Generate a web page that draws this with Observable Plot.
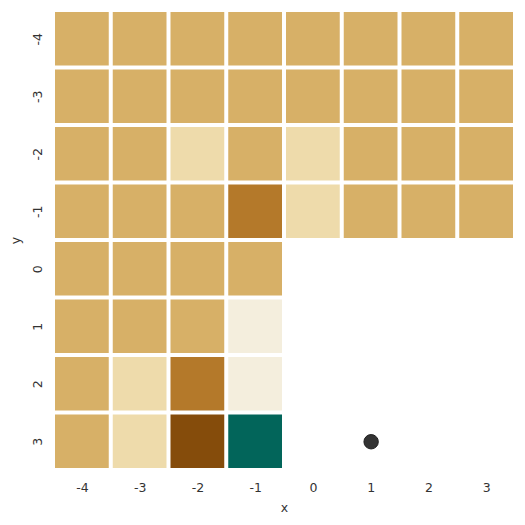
<!DOCTYPE html>
<html>
<head>
<meta charset="utf-8">
<script src="https://cdn.jsdelivr.net/npm/d3@7"></script>
<script src="https://cdn.jsdelivr.net/npm/@observablehq/plot@0.6"></script>
<style>
  body { margin: 0; background: #fff; }
  #chart { width: 525px; height: 525px; }
</style>
</head>
<body>
<div id="chart"></div>
<script>
const xs = [-4, -3, -2, -1, 0, 1, 2, 3];
const ys = [-4, -3, -2, -1, 0, 1, 2, 3];
// category codes per row (y = -4 .. 3), per column (x = -4 .. 3); null = empty
const grid = [
  ["B","B","B","B","B","B","B","B"],
  ["B","B","B","B","B","B","B","B"],
  ["B","B","C","B","C","B","B","B"],
  ["B","B","B","A","C","B","B","B"],
  ["B","B","B","B",null,null,null,null],
  ["B","B","B","D",null,null,null,null],
  ["B","C","A","D",null,null,null,null],
  ["B","C","Z","T",null,null,null,null]
];
const categories = ["Z","A","B","C","D","T"];
const colors = ["#854c0b","#b4792a","#d7b067","#eedbab","#f4eedd","#02655a"];
const points = [{x: 1, y: 3}];

const cells = [];
ys.forEach((y, i) => xs.forEach((x, j) => {
  if (grid[i][j] !== null) cells.push({x, y, v: grid[i][j]});
}));

const chart = Plot.plot({
  width: 525,
  height: 525,
  marginLeft: 53,
  marginRight: 10,
  marginTop: 10,
  marginBottom: 55,
  style: {fontFamily: "DejaVu Sans", fontSize: "12.5px", color: "#333", background: "#fff"},
  x: {domain: xs, padding: 0, round: false},
  y: {domain: ys, padding: 0, round: false},
  color: {type: "ordinal", domain: categories, range: colors},
  marks: [
    Plot.cell(cells, {x: "x", y: "y", fill: "v", inset: 2}),
    Plot.dot(points, {x: "x", y: "y", r: 7.2, fill: "#333", stroke: "#1f1f1f", strokeWidth: 1}),
    Plot.axisX({tickSize: 0, tickPadding: 13, label: "x", labelAnchor: "center", labelArrow: "none", labelOffset: 41, fontSize: 12.5}),
    Plot.axisY({tickSize: 0, tickPadding: 12, tickRotate: -90, label: "y", labelAnchor: "center", labelArrow: "none", labelOffset: 42, fontSize: 12.5})
  ]
});
document.getElementById("chart").appendChild(chart);
</script>
</body>
</html>
